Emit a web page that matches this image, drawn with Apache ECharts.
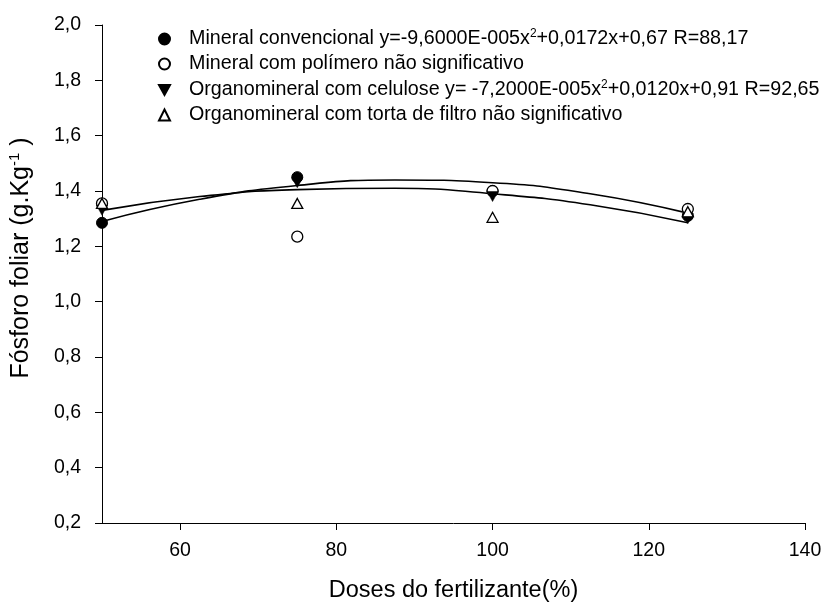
<!DOCTYPE html>
<html>
<head>
<meta charset="utf-8">
<script src="https://cdn.jsdelivr.net/npm/echarts@6/dist/echarts.min.js"></script>
<style>
html,body{margin:0;padding:0;background:#fff;}
#chart{width:826px;height:608px;}
</style>
</head>
<body>
<div id="chart"></div>
<script>
// ---- data ----
const doses = [50, 75, 100, 125];
const mineralConvencional = [1.285, 1.45, 1.40, 1.31];
const mineralPolimero = [1.355, 1.235, 1.40, 1.335];
const organoCelulose = [1.33, 1.43, 1.38, 1.30];
const organoTorta = [1.355, 1.355, 1.305, 1.325];

// fitted curves
const curveX = [50, 62.5, 75, 87.5, 100, 112.5, 125];
const curveMineral = [1.29, 1.37, 1.42, 1.44, 1.43, 1.39, 1.32];
const curveCelulose = [1.33, 1.38, 1.405, 1.41, 1.39, 1.35, 1.285];

const xTicks = [60, 80, 100, 120, 140];
const seriesNames = ['Mineral convencional', 'Mineral com polímero', 'Organomineral com celulose', 'Organomineral com torta de filtro'];
const legendLabels = [
  '{t|Mineral convencional y=-9,6000E-005x}{s|2}{t|+0,0172x+0,67 R=88,17}',
  '{t|Mineral com polímero não significativo}',
  '{t|Organomineral com celulose y= -7,2000E-005x}{s|2}{t|+0,0120x+0,91 R=92,65}',
  '{t|Organomineral com torta de filtro não significativo}'
];
const xTitle = 'Doses do fertilizante(%)';
const yTitle = '{t|Fósforo foliar (g.Kg}{s|-1}{t| )}';

const FONT = "'Liberation Sans', Arial, sans-serif";
const pairs = (xs, ys) => xs.map((x, i) => [x, ys[i]]);

const chart = echarts.init(document.getElementById('chart'), null, {renderer: 'canvas'});
const legendMap = {};
seriesNames.forEach((n, i) => legendMap[n] = legendLabels[i]);

const downTri = 'path://M0,0L10,0L5,9Z';

chart.setOption({
  animation: false,
  backgroundColor: '#fff',
  grid: {left: 102, right: 21, top: 25, bottom: 83},
  legend: {
    data: seriesNames,
    orient: 'vertical',
    left: 153,
    top: 23,
    itemWidth: 11,
    itemHeight: 11,
    itemGap: 5,
    selectedMode: false,
    formatter: name => legendMap[name],
    textStyle: {
      padding: [0, 0, 0, 14],
      rich: {
        t: {fontSize: 19.7, fontFamily: FONT, color: '#000', lineHeight: 22},
        s: {fontSize: 12, fontFamily: FONT, color: '#000', lineHeight: 12, verticalAlign: 'top'}
      }
    }
  },
  xAxis: {
    type: 'value',
    min: 50, max: 140,
    name: xTitle,
    nameLocation: 'middle',
    nameGap: 56,
    nameTextStyle: {fontSize: 23.5, fontFamily: FONT, color: '#000'},
    axisLine: {show: true, onZero: false, lineStyle: {color: '#000', width: 1}},
    axisTick: {show: true, length: 7, customValues: xTicks, lineStyle: {color: '#000'}},
    axisLabel: {customValues: xTicks, fontSize: 19.5, fontFamily: FONT, color: '#000', margin: 18},
    splitLine: {show: false}
  },
  yAxis: {
    type: 'value',
    min: 0.2, max: 2.0, interval: 0.2,
    axisLine: {show: true, onZero: false, lineStyle: {color: '#000', width: 1}},
    axisTick: {show: true, length: 7, lineStyle: {color: '#000'}},
    axisLabel: {fontSize: 19.5, fontFamily: FONT, color: '#000', margin: 21,
      formatter: v => v.toFixed(1).replace('.', ',')},
    splitLine: {show: false}
  },
  graphic: [{
    type: 'text',
    x: 21, y: 258,
    rotation: Math.PI / 2,
    style: {
      text: yTitle,
      align: 'center',
      verticalAlign: 'middle',
      rich: {
        t: {fontSize: 25, fontFamily: FONT, fill: '#000', lineHeight: 28},
        s: {fontSize: 15, fontFamily: FONT, fill: '#000', lineHeight: 15, verticalAlign: 'top'}
      }
    }
  }],
  series: [
    {type: 'line', data: pairs(curveX, curveMineral), smooth: 0.5, symbol: 'none', silent: true, z: 1,
     lineStyle: {color: '#000', width: 1.6}},
    {type: 'line', data: pairs(curveX, curveCelulose), smooth: 0.5, symbol: 'none', silent: true, z: 1,
     lineStyle: {color: '#000', width: 1.6}},
    {name: seriesNames[0], type: 'scatter', data: pairs(doses, mineralConvencional), symbol: 'circle', symbolSize: 11, z: 3,
     itemStyle: {color: '#000', borderColor: '#000', borderWidth: 1, opacity: 1}},
    {name: seriesNames[1], type: 'scatter', data: pairs(doses, mineralPolimero), symbol: 'circle', symbolSize: 11, z: 3,
     itemStyle: {color: '#fff', borderColor: '#000', borderWidth: 1.3, opacity: 1}},
    {name: seriesNames[2], type: 'scatter', data: pairs(doses, organoCelulose), symbol: downTri, symbolSize: [11, 10], z: 3,
     itemStyle: {color: '#000', borderColor: '#000', borderWidth: 0.5, opacity: 1}},
    {name: seriesNames[3], type: 'scatter', data: pairs(doses, organoTorta), symbol: 'triangle', symbolSize: [11, 10], z: 3,
     itemStyle: {color: '#fff', borderColor: '#000', borderWidth: 1.3, opacity: 1}}
  ]
});
</script>
</body>
</html>
